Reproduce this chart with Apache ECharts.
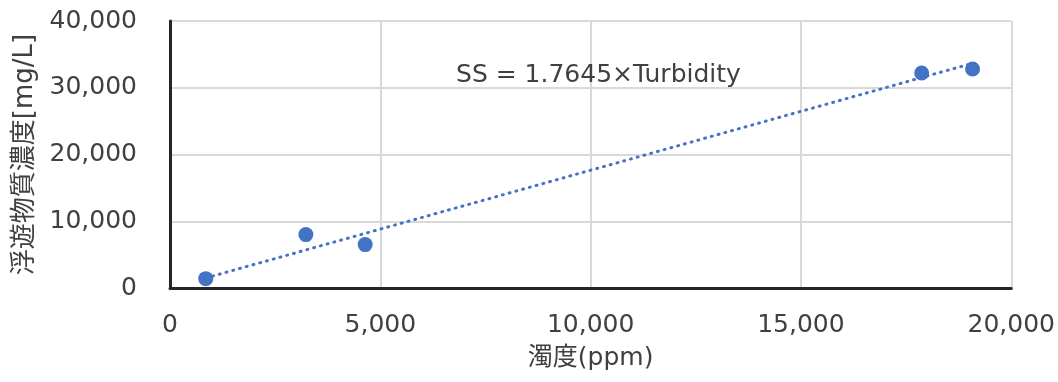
<!DOCTYPE html>
<html>
<head>
<meta charset="utf-8">
<script src="https://cdn.jsdelivr.net/npm/echarts@6/dist/echarts.min.js"></script>
<style>
html,body{margin:0;padding:0;background:#fff;}
#chart{width:1058px;height:382px;}
</style>
</head>
<body>
<div id="chart"></div>
<script>
// Data
const turbidity = [850, 3230, 4640, 17870, 19080];   // 濁度(ppm)
const ssConc    = [1400, 8000, 6500, 32200, 32800];  // 浮遊物質濃度[mg/L]
const slope = 1.7645;                                  // SS = 1.7645×Turbidity
const trendLabel = 'SS = 1.7645×Turbidity';
const xAxisName = '濁度(ppm)';
const yAxisName = '浮遊物質濃度[mg/L]';

const points = turbidity.map((x, i) => [x, ssConc[i]]);
const xMinData = Math.min(...turbidity), xMaxData = Math.max(...turbidity);
const trend = [[xMinData, slope * xMinData], [xMaxData, slope * xMaxData]];

const FONT = '"DejaVu Sans", "Noto Sans CJK JP", sans-serif';
const TXT = '#404040';
const fmt = v => v.toLocaleString('en-US');

const chart = echarts.init(document.getElementById('chart'), null, {renderer: 'canvas'});
chart.setOption({
  animation: false,
  backgroundColor: '#ffffff',
  textStyle: {fontFamily: FONT},
  grid: {left: 170, right: 43, top: 21, bottom: 94, containLabel: false},
  xAxis: [{
    type: 'value', min: 0, max: 20000, interval: 5000,
    name: xAxisName, nameLocation: 'middle', nameGap: 58,
    nameTextStyle: {fontSize: 25, color: TXT, fontFamily: FONT},
    axisLine: {show: true, lineStyle: {color: '#8c8c8c', width: 2}},
    axisTick: {show: false},
    axisLabel: {fontSize: 25, color: TXT, margin: 25, formatter: fmt, fontFamily: FONT},
    splitLine: {show: true, lineStyle: {color: '#d9d9d9', width: 2}}
  }, {
    type: 'value', min: 0, max: 20000, position: 'top',
    axisLine: {show: true, lineStyle: {color: '#262626', width: 3}},
    axisTick: {show: false}, axisLabel: {show: false}, splitLine: {show: false}
  }],
  yAxis: [{
    type: 'value', min: 0, max: 40000, interval: 10000,
    name: yAxisName, nameLocation: 'middle', nameGap: 125, nameRotate: 90,
    nameTextStyle: {fontSize: 26, color: TXT, fontFamily: FONT},
    axisLine: {show: true, lineStyle: {color: '#8c8c8c', width: 2}},
    axisTick: {show: false},
    axisLabel: {fontSize: 25, color: TXT, margin: 33, formatter: fmt, fontFamily: FONT},
    splitLine: {show: true, lineStyle: {color: '#d9d9d9', width: 2}}
  }, {
    type: 'value', min: 0, max: 40000, position: 'right',
    axisLine: {show: true, lineStyle: {color: '#262626', width: 3}},
    axisTick: {show: false}, axisLabel: {show: false}, splitLine: {show: false}
  }],
  series: [{
    type: 'line', data: trend, showSymbol: false, symbol: 'none',
    lineStyle: {color: '#4472C4', width: 3, type: [1, 6], cap: 'round'},
    silent: true, z: 2
  }, {
    type: 'scatter', data: points, symbolSize: 15,
    itemStyle: {color: '#4472C4', opacity: 1}, z: 3
  }]
});

// Trend equation label placed via the chart's own coordinate conversion
const labelPos = chart.convertToPixel({xAxisIndex: 0, yAxisIndex: 0}, [6800, 31900]);
chart.setOption({
  graphic: [{
    type: 'text', x: labelPos[0], y: labelPos[1], z: 100,
    style: {text: trendLabel, fontSize: 25, fill: TXT, fontFamily: FONT,
            textAlign: 'left', textVerticalAlign: 'middle', verticalAlign: 'middle'}
  }]
});
</script>
</body>
</html>
